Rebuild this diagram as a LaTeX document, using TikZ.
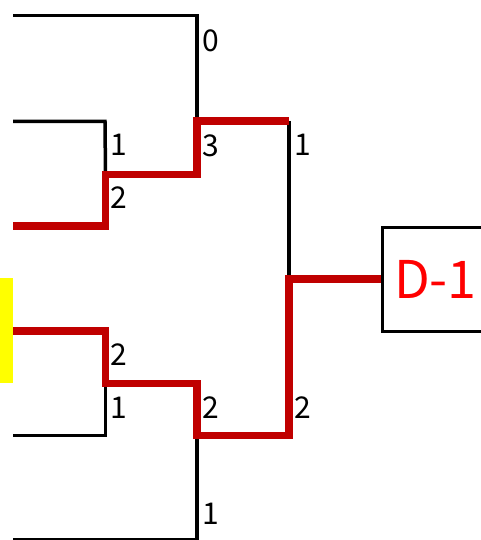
\documentclass[tikz,border=0pt]{standalone}
\usepackage{fontspec}
\setmainfont{Noto Sans CJK JP}
\definecolor{pathred}{HTML}{C00000}
\definecolor{hiyellow}{HTML}{FFFF00}
\begin{document}
\begin{tikzpicture}[x=1pt,y=-1pt,
  bline/.style={draw=black,line width=3.5pt},
  rline/.style={draw=pathred,line width=7.6pt},
  num/.style={anchor=west,inner sep=0pt,font=\fontsize{30}{30}\selectfont},
  boxnode/.style={draw=black,line width=3pt,anchor=west,minimum height=104pt,inner xsep=12pt,inner ysep=0pt,text=red,font=\fontsize{52}{52}\selectfont}]
\useasboundingbox (0,0) rectangle (481,540);
\clip (0,0) rectangle (481,540);
% coordinates
\coordinate (t0) at (13,15.5);
\coordinate (t1) at (197,15.5);
\coordinate (a0) at (13,121.5);
\coordinate (a1) at (105,121.5);
\coordinate (b0) at (13,226);
\coordinate (b1) at (105.5,226);
\coordinate (b2) at (105.5,174.5);
\coordinate (b3) at (197,174.5);
\coordinate (b4) at (197,121);
\coordinate (b5) at (289,121);
\coordinate (m0) at (289,279);
\coordinate (c0) at (13,331);
\coordinate (c1) at (105.5,331);
\coordinate (c2) at (105.5,383.5);
\coordinate (c3) at (197,383.5);
\coordinate (c4) at (197,435.5);
\coordinate (c5) at (289,435.5);
\coordinate (d0) at (13,435.5);
\coordinate (d1) at (105.5,435.5);
\coordinate (e0) at (13,539.5);
\coordinate (e1) at (197,539.5);
% yellow marker
\fill[hiyellow] (0,278) rectangle (13,383);
% result box
\node[boxnode] (res) at (380.5,279) {D-1};
% black lines
\draw[bline] (t0) -- (t1) -- (b4);
\draw[bline] (a0) -- (a1) -- (b2);
\draw[bline] (b5) -- (m0);
\draw[bline] (d0) -- (d1) -- (c2);
\draw[bline] (e0) -- (e1) -- (c4);
% red path
\draw[rline] (b0) -- (b1) -- (b2) -- (b3) -- (b4) -- (b5);
\draw[rline] (c0) -- (c1) -- (c2) -- (c3) -- (c4) -- (c5) -- (m0) -- (res.west);
% labels
\node[num] (l0) at (202.5,40.5) {0};
\node[num] (l1) at (110.5,145) {1};
\node[num] (l2) at (110.5,198) {2};
\node[num] (l3) at (202.5,146) {3};
\node[num] (l4) at (294.5,144.5) {1};
\node[num] (l5) at (294.5,407.5) {2};
\node[num] (l6) at (110.5,355) {2};
\node[num] (l7) at (110.5,407.5) {1};
\node[num] (l8) at (202.5,407.5) {2};
\node[num] (l9) at (202.5,514) {1};
\end{tikzpicture}
\end{document}
